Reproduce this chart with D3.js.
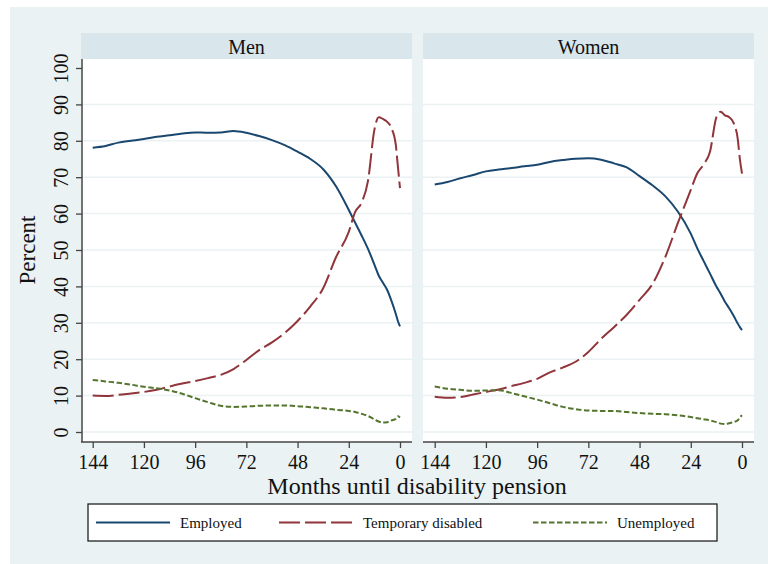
<!DOCTYPE html>
<html>
<head>
<meta charset="utf-8">
<script src="https://cdn.jsdelivr.net/npm/d3@7"></script>
<style>
  body { margin: 0; background: #fff; }
  svg { display: block; font-family: "Liberation Serif", "Times New Roman", serif; }
</style>
</head>
<body>
<div id="chart"></div>
<script>
// months until disability pension (x values shared by all series)
var months = [144, 138, 132, 126, 120, 114, 108, 102, 96, 90, 84, 78, 72, 66, 60, 54, 48, 42, 36, 30, 24, 21, 18, 15, 12, 10, 8, 6, 4, 2, 1, 0];

// Men
var menEmployed = [78.1, 78.6, 79.5, 80.0, 80.5, 81.1, 81.5, 82.0, 82.3, 82.2, 82.3, 82.7, 82.2, 81.3, 80.2, 78.8, 77.0, 75.0, 72.2, 67.5, 61.0, 57.5, 54.0, 50.3, 46.0, 43.0, 41.0, 39.0, 36.0, 32.5, 30.5, 29.0];
var menTempDisabled = [10.0, 9.9, 10.2, 10.6, 11.0, 11.6, 12.5, 13.3, 14.0, 14.8, 15.7, 17.3, 19.8, 22.5, 24.6, 27.2, 30.5, 34.5, 39.5, 48.0, 55.0, 60.5, 63.0, 69.0, 83.0, 86.5, 86.0, 85.2, 83.5, 79.0, 73.0, 67.0];
var menUnemployed = [14.3, 13.9, 13.5, 13.0, 12.4, 12.0, 11.4, 10.5, 9.3, 8.2, 7.2, 6.9, 7.0, 7.2, 7.3, 7.3, 7.1, 6.8, 6.5, 6.1, 5.8, 5.5, 5.0, 4.4, 3.5, 2.9, 2.6, 2.7, 3.2, 3.6, 4.3, 4.0];

// Women
var womenEmployed = [68.0, 68.7, 69.7, 70.6, 71.6, 72.1, 72.5, 73.0, 73.4, 74.2, 74.7, 75.1, 75.2, 74.8, 73.8, 72.7, 70.3, 67.8, 64.8, 60.5, 54.5, 50.5, 47.0, 43.5, 40.0, 38.0, 35.8, 34.0, 32.0, 29.8, 28.8, 28.0];
var womenTempDisabled = [9.7, 9.4, 9.6, 10.3, 11.0, 11.7, 12.6, 13.5, 14.6, 16.4, 17.7, 19.3, 22.0, 25.6, 28.8, 32.2, 36.3, 40.6, 48.0, 57.5, 66.5, 71.0, 73.5, 77.0, 86.5, 88.0, 87.0, 86.5, 85.0, 80.5, 75.0, 71.0];
var womenUnemployed = [12.5, 11.9, 11.6, 11.3, 11.4, 11.5, 10.7, 9.8, 8.9, 7.9, 6.9, 6.3, 5.9, 5.8, 5.8, 5.5, 5.2, 5.0, 4.9, 4.6, 4.1, 3.8, 3.5, 3.2, 2.7, 2.3, 2.2, 2.4, 2.7, 3.2, 4.0, 4.6];

var xTicks = [144, 120, 96, 72, 48, 24, 0];
var yTicks = [0, 10, 20, 30, 40, 50, 60, 70, 80, 90, 100];
var seriesNames = ["Employed", "Temporary disabled", "Unemployed"];

var panels = [
    { title: "Men", values: [menEmployed, menTempDisabled, menUnemployed] },
    { title: "Women", values: [womenEmployed, womenTempDisabled, womenUnemployed] }
];

var colors = ["#1a476f", "#90353b", "#55752f"];
var dashes = [null, "21,5", "5.5,2.5"];

var W = 768, H = 564;
var svg = d3.select("#chart").append("svg")
    .attr("width", W)
    .attr("height", H);

// outer background
svg.append("rect").attr("x", 10).attr("y", 7).attr("width", W - 10).attr("height", H - 7).attr("fill", "#eaf2f3");

var plotTop = 59, plotBottom = 442, stripTop = 33;
var panelLeft = [81, 423], panelW = 331;

var y = d3.scaleLinear().domain([0, 100]).range([432, 68]);

panels.forEach(function(p, i){
    var left = panelLeft[i];
    var x = d3.scaleLinear().domain([144, 0]).range([left + 11.7, left + panelW - 12]);

    // header strip
    svg.append("rect").attr("x", left).attr("y", stripTop).attr("width", panelW).attr("height", plotTop - stripTop).attr("fill", "#d9e6eb");
    svg.append("text")
        .attr("x", left + panelW / 2).attr("y", 54)
        .attr("text-anchor", "middle")
        .style("font-size", "20px")
        .attr("fill", "#111")
        .text(p.title);

    // plot region
    svg.append("rect").attr("x", left).attr("y", plotTop).attr("width", panelW).attr("height", plotBottom - plotTop).attr("fill", "#fff");

    // grid lines (no grid at the top tick)
    svg.append("g").selectAll("line")
        .data(yTicks.slice(0, -1))
        .enter().append("line")
        .attr("x1", left).attr("x2", left + panelW)
        .attr("y1", function(d){ return y(d); })
        .attr("y2", function(d){ return y(d); })
        .attr("stroke", "#eaf2f3")
        .attr("stroke-width", 1.5);

    // series
    var line = d3.line()
        .x(function(d){ return x(d[0]); })
        .y(function(d){ return y(d[1]); })
        .curve(d3.curveMonotoneX);

    p.values.forEach(function(vals, k){
        var pts = months.map(function(m, j){ return [m, vals[j]]; });
        svg.append("path")
            .datum(pts)
            .attr("d", line)
            .attr("fill", "none")
            .attr("stroke", colors[k])
            .attr("stroke-width", 2)
            .attr("stroke-dasharray", dashes[k]);
    });

    // x axis
    var xAxis = d3.axisBottom(x).tickValues(xTicks).tickSize(6).tickPadding(7).tickSizeOuter(0);
    var gx = svg.append("g")
        .attr("transform", "translate(0," + plotBottom + ")")
        .call(xAxis);
    gx.select(".domain").attr("stroke", "#444").attr("stroke-width", 1.5)
        .attr("d", "M" + left + ",0H" + (left + panelW));
    gx.selectAll(".tick line").attr("stroke", "#444").attr("stroke-width", 1.3);
    gx.selectAll(".tick text").style("font-size", "20px").attr("fill", "#111")
        .style("font-family", "Liberation Serif, Times New Roman, serif");

    // y axis only on the first panel
    if(i == 0){
        var yAxis = d3.axisLeft(y).tickValues(yTicks).tickSize(6).tickFormat(d3.format("d")).tickSizeOuter(0);
        var gy = svg.append("g")
            .attr("transform", "translate(" + (left + 1) + ",0)")
            .call(yAxis);
        gy.select(".domain").attr("stroke", "#444").attr("stroke-width", 1.5)
            .attr("d", "M0," + plotTop + "V" + plotBottom);
        gy.selectAll(".tick line").attr("stroke", "#444").attr("stroke-width", 1.3);
        gy.selectAll(".tick text")
            .attr("x", null).attr("dy", null)
            .attr("transform", "translate(-14,0) rotate(-90)")
            .attr("text-anchor", "middle")
            .style("font-size", "20px").attr("fill", "#111")
            .style("font-family", "Liberation Serif, Times New Roman, serif");
    }
});

// axis titles
svg.append("text")
    .attr("transform", "translate(35,250) rotate(-90)")
    .attr("text-anchor", "middle")
    .style("font-size", "23px")
    .attr("fill", "#111")
    .text("Percent");

svg.append("text")
    .attr("x", 417).attr("y", 494)
    .attr("text-anchor", "middle")
    .style("font-size", "24px")
    .attr("fill", "#111")
    .text("Months until disability pension");

// legend
svg.append("rect")
    .attr("x", 88).attr("y", 504).attr("width", 629).attr("height", 37)
    .attr("fill", "#fff").attr("stroke", "#222").attr("stroke-width", 1.3);

var legendX = [96, 279, 533];
seriesNames.forEach(function(name, k){
    svg.append("line")
        .attr("x1", legendX[k]).attr("x2", legendX[k] + 74)
        .attr("y1", 522.5).attr("y2", 522.5)
        .attr("stroke", colors[k])
        .attr("stroke-width", 2)
        .attr("stroke-dasharray", dashes[k]);
    svg.append("text")
        .attr("x", legendX[k] + 84).attr("y", 528)
        .style("font-size", "15px")
        .attr("fill", "#111")
        .text(name);
});
</script>
</body>
</html>
